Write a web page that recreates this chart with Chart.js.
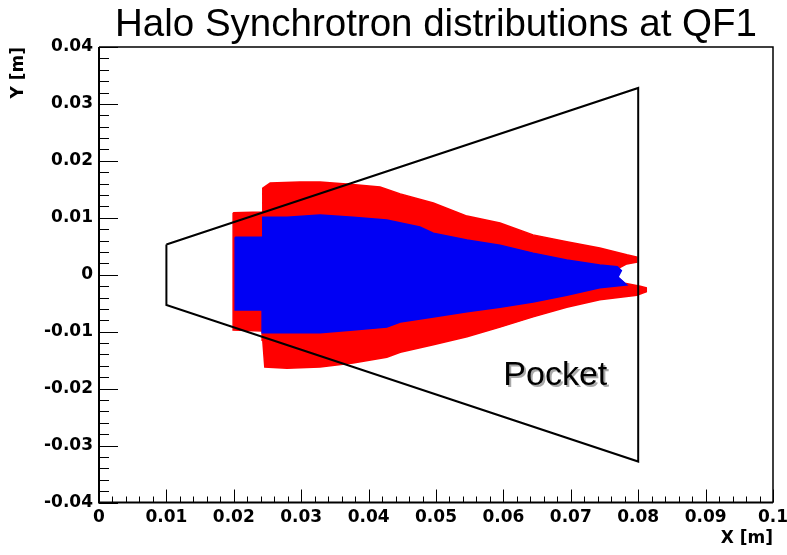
<!DOCTYPE html>
<html><head><meta charset="utf-8">
<script src="https://cdn.jsdelivr.net/npm/chart.js@4/dist/chart.umd.min.js"></script>
<style>html,body{margin:0;padding:0;background:#fff;}#wrap{width:787px;height:555px;}</style>
</head><body><div id="wrap"><canvas id="c" width="787" height="555"></canvas></div>
<script>
const chartTitle = 'Halo Synchrotron distributions at QF1';
const xAxisTitle = 'X [m]';
const yAxisTitle = 'Y [m]';
const pocketText = 'Pocket';

const xTickValues = [0, 0.01, 0.02, 0.03, 0.04, 0.05, 0.06, 0.07, 0.08, 0.09, 0.1];
const xTickLabels = ['0', '0.01', '0.02', '0.03', '0.04', '0.05', '0.06', '0.07', '0.08', '0.09', '0.1'];
const yTickValues = [-0.04, -0.03, -0.02, -0.01, 0, 0.01, 0.02, 0.03, 0.04];
const yTickLabels = ['-0.04', '-0.03', '-0.02', '-0.01', '0', '0.01', '0.02', '0.03', '0.04'];

// Pocket outline (closed)
const pocketX = [0.01, 0.08, 0.08, 0.01, 0.01];
const pocketY = [0.0053, 0.0328, -0.0328, -0.0053, 0.0053];

// Outer (red) halo distribution outline
const redX = [0.0199,0.0242,0.0243,0.0254,0.0298,0.0328,0.0372,0.0417,0.0447,0.0496,0.0546,0.0595,0.0644,0.0694,0.0743,0.0783,0.0798,0.0798,0.0783,0.0772,0.0769,0.0780,0.0803,0.0812,0.0812,0.0798,0.0743,0.0694,0.0644,0.0595,0.0546,0.0496,0.0447,0.0427,0.0377,0.0328,0.0279,0.0246,0.0243,0.0242,0.0199,0.0199];
const redY = [0.0109,0.0110,0.0152,0.0161,0.0163,0.0163,0.0159,0.0154,0.0142,0.0126,0.0103,0.0091,0.0070,0.0058,0.0047,0.0035,0.0031,0.0022,0.0019,0.0012,-0.0004,-0.0015,-0.0020,-0.0023,-0.0030,-0.0036,-0.0044,-0.0057,-0.0074,-0.0092,-0.0109,-0.0123,-0.0136,-0.0145,-0.0155,-0.0162,-0.0164,-0.0162,-0.0115,-0.0099,-0.0097,0.0109];

// Inner (blue) distribution outline
const blueX = [0.0202,0.0242,0.0243,0.0279,0.0328,0.0377,0.0427,0.0476,0.0496,0.0546,0.0595,0.0644,0.0694,0.0743,0.0769,0.0775,0.0770,0.0783,0.0743,0.0694,0.0644,0.0595,0.0546,0.0496,0.0447,0.0427,0.0377,0.0328,0.0279,0.0243,0.0242,0.0202,0.0202];
const blueY = [0.0066,0.0066,0.0101,0.0101,0.0105,0.0101,0.0096,0.0084,0.0073,0.0061,0.0052,0.0038,0.0026,0.0017,0.0014,0.0007,-0.0004,-0.0018,-0.0023,-0.0036,-0.0048,-0.0057,-0.0065,-0.0074,-0.0083,-0.0092,-0.0097,-0.0102,-0.0102,-0.0102,-0.0062,-0.0062,0.0066];

const zip = (xs, ys) => xs.map((x, i) => ({x: x, y: ys[i]}));

const rootFrame = {
  id: 'rootFrame',
  afterDatasetsDraw(chart) {
    const {ctx, chartArea: a, scales} = chart;
    const xs = scales.x, ys = scales.y;
    ctx.save();
    // pocket label with shadow
    ctx.font = '34px "Liberation Sans", Arial, sans-serif';
    ctx.textAlign = 'center';
    ctx.textBaseline = 'middle';
    const px = xs.getPixelForValue(0.0677), py = ys.getPixelForValue(-0.0178);
    ctx.fillStyle = '#a8a8a8';
    ctx.fillText(pocketText, px + 2, py + 2);
    ctx.fillStyle = '#000';
    ctx.fillText(pocketText, px, py);
    // frame
    ctx.strokeStyle = '#000';
    ctx.lineWidth = 1.5;
    ctx.beginPath();
    ctx.moveTo(a.left, a.top); ctx.lineTo(a.right, a.top); ctx.lineTo(a.right, a.bottom);
    ctx.stroke();
    ctx.lineWidth = 2;
    ctx.beginPath();
    ctx.moveTo(a.left, a.top); ctx.lineTo(a.left, a.bottom); ctx.lineTo(a.right, a.bottom);
    ctx.stroke();
    // ticks
    ctx.lineWidth = 1;
    ctx.beginPath();
    for (let i = 0; i < xTickValues.length; i++) {
      const p = Math.round(xs.getPixelForValue(xTickValues[i])) + 0.5;
      ctx.moveTo(p, a.bottom); ctx.lineTo(p, a.bottom - 13);
      if (i < xTickValues.length - 1) {
        const step = (xTickValues[i + 1] - xTickValues[i]) / 5;
        for (let k = 1; k < 5; k++) {
          const q = Math.round(xs.getPixelForValue(xTickValues[i] + k * step)) + 0.5;
          ctx.moveTo(q, a.bottom); ctx.lineTo(q, a.bottom - 6);
        }
      }
    }
    for (let i = 0; i < yTickValues.length; i++) {
      const p = Math.round(ys.getPixelForValue(yTickValues[i])) + 0.5;
      ctx.moveTo(a.left, p); ctx.lineTo(a.left + 19, p);
      if (i < yTickValues.length - 1) {
        const step = (yTickValues[i + 1] - yTickValues[i]) / 5;
        for (let k = 1; k < 5; k++) {
          const q = Math.round(ys.getPixelForValue(yTickValues[i] + k * step)) + 0.5;
          ctx.moveTo(a.left, q); ctx.lineTo(a.left + 10, q);
        }
      }
    }
    ctx.stroke();
    ctx.restore();
  }
};

const tickFont = {family: '"DejaVu Sans", sans-serif', weight: 'bold', size: 17};

new Chart(document.getElementById('c'), {
  type: 'scatter',
  data: {
    datasets: [
      {label: 'Pocket', data: zip(pocketX, pocketY), showLine: true, fill: false,
       borderColor: '#000', borderWidth: 2, pointRadius: 0, tension: 0, order: 0},
      {label: 'Core', data: zip(blueX, blueY), showLine: true, fill: 'shape',
       backgroundColor: '#0000f4', borderColor: '#0000f4', borderWidth: 1.5, pointRadius: 0, tension: 0, order: 1},
      {label: 'Halo', data: zip(redX, redY), showLine: true, fill: 'shape',
       backgroundColor: '#ff0000', borderColor: '#ff0000', borderWidth: 1.5, pointRadius: 0, tension: 0, order: 2}
    ]
  },
  options: {
    responsive: false,
    animation: false,
    devicePixelRatio: 1,
    layout: {padding: {left: 0, right: 14, top: 0, bottom: 0}},
    plugins: {
      legend: {display: false},
      tooltip: {enabled: false},
      title: {display: true, text: chartTitle, color: '#000', fullSize: false,
              font: {family: '"Liberation Sans", Arial, sans-serif', size: 38.5, weight: 'normal', lineHeight: 1},
              padding: {top: 6, bottom: 2.5}}
    },
    scales: {
      x: {
        type: 'linear', min: 0, max: 0.1,
        afterBuildTicks: s => { s.ticks = xTickValues.map(v => ({value: v})); },
        afterFit: s => { s.height = 52.5; s.paddingLeft = 0; s.paddingRight = 0; },
        grid: {display: false, drawTicks: false, tickLength: 0},
        border: {display: false},
        ticks: {autoSkip: false, maxRotation: 0, padding: 5, color: '#000', font: tickFont,
                callback: (v, i) => xTickLabels[i]},
        title: {display: true, text: xAxisTitle, align: 'end', color: '#000',
                font: {family: '"DejaVu Sans", sans-serif', weight: 'bold', size: 17, lineHeight: 1.2},
                padding: {top: 0, bottom: 6}}
      },
      y: {
        type: 'linear', min: -0.04, max: 0.04,
        afterBuildTicks: s => { s.ticks = yTickValues.map(v => ({value: v})); },
        afterFit: s => { s.width = 99; s.paddingTop = 0; s.paddingBottom = 0; },
        grid: {display: false, drawTicks: false, tickLength: 0},
        border: {display: false},
        ticks: {autoSkip: false, padding: 6, color: '#000', font: tickFont,
                callback: (v, i) => yTickLabels[i]},
        title: {display: true, text: yAxisTitle, align: 'end', color: '#000',
                font: {family: '"DejaVu Sans", sans-serif', weight: 'bold', size: 17, lineHeight: 1.2},
                padding: {top: 8, bottom: 0}}
      }
    }
  },
  plugins: [rootFrame]
});
</script></body></html>
